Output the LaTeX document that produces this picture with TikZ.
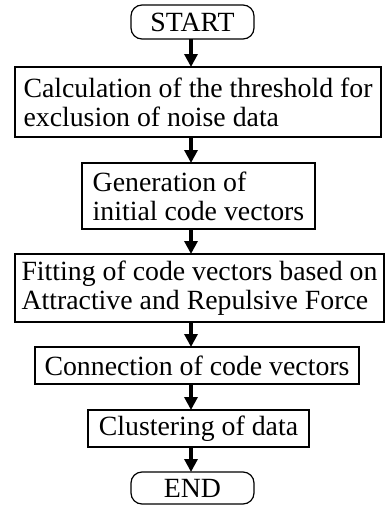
\documentclass[tikz,border=0pt]{standalone}
\usepackage{fontspec}
\setmainfont{Liberation Serif}
\usetikzlibrary{arrows.meta}
\begin{document}
\begin{tikzpicture}[x=1pt,y=-1pt,
  box/.style={draw, line width=1.2pt, inner sep=0pt, outer sep=0pt, align=left,
    font=\fontsize{27.8}{29}\selectfont},
  term/.style={box, rounded corners=11pt, align=center},
  arr/.style={line width=3.2pt, -{Triangle[length=13pt,width=13pt]}}]
\useasboundingbox (0,0) rectangle (385,506);
\coordinate (ax) at (191,0);
\node[term, minimum width=123pt, minimum height=34pt] (start) at (192.5,22) {START};
\node[box, minimum width=366pt, minimum height=70pt] (b1) at (198,102)
  {Calculation of the threshold for\\exclusion of noise data};
\node[box, minimum width=233pt, minimum height=66pt] (b2) at (198.5,196)
  {Generation of\\initial code vectors};
\node[box, minimum width=369pt, minimum height=68pt] (b3) at (199.5,288)
  {Fitting of code vectors based on\\Attractive and Repulsive Force};
\node[box, minimum width=324pt, minimum height=37pt] (b4) at (197,365.5)
  {Connection of code vectors};
\node[box, minimum width=221pt, minimum height=37pt] (b5) at (198.5,428.5)
  {Clustering of data};
\node[term, minimum width=123pt, minimum height=32pt] (end) at (192.5,488) {END};
\draw[arr] (start.south -| ax) -- (b1.north -| ax);
\draw[arr] (b1.south -| ax) -- (b2.north -| ax);
\draw[arr] (b2.south -| ax) -- (b3.north -| ax);
\draw[arr] (b3.south -| ax) -- (b4.north -| ax);
\draw[arr] (b4.south -| ax) -- (b5.north -| ax);
\draw[arr] (b5.south -| ax) -- (end.north -| ax);
\end{tikzpicture}
\end{document}
